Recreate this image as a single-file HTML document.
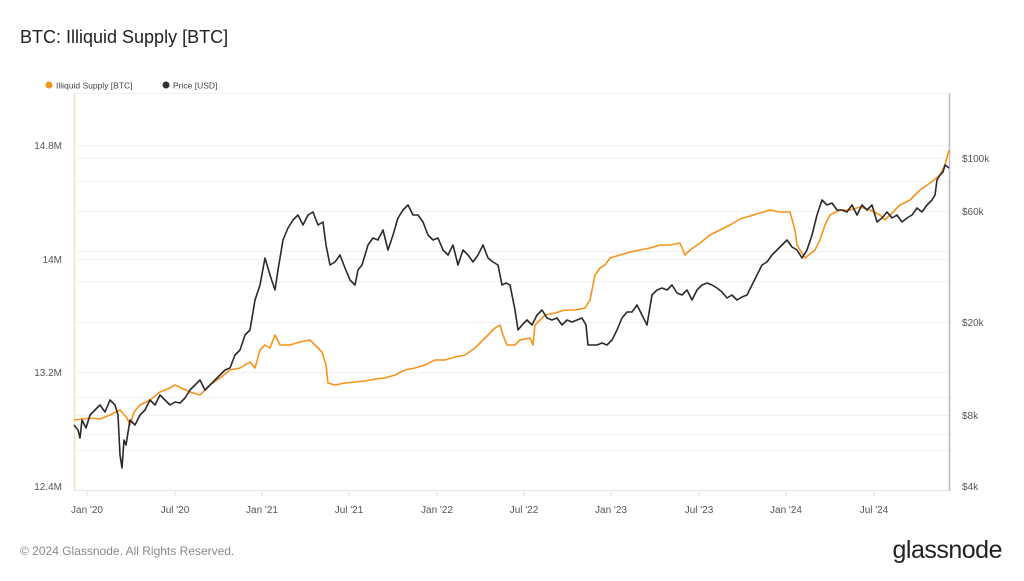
<!DOCTYPE html>
<html><head><meta charset="utf-8"><style>
body{margin:0;background:#fff;font-family:"Liberation Sans",sans-serif;}
</style></head><body>
<svg width="1024" height="576" xmlns="http://www.w3.org/2000/svg" font-family="Liberation Sans, sans-serif">
<rect width="1024" height="576" fill="#fff"/>
<text x="20" y="43" font-size="18" fill="#222">BTC: Illiquid Supply [BTC]</text>
<circle cx="49" cy="85" r="3.5" fill="#f7931a"/>
<text x="56" y="88.5" font-size="8.5" fill="#444">Illiquid Supply [BTC]</text>
<circle cx="166" cy="85" r="3.5" fill="#333"/>
<text x="173" y="88.5" font-size="8.5" fill="#444">Price [USD]</text>
<g stroke="#f0f0f0" stroke-width="1">
<line x1="74" y1="93.5" x2="949" y2="93.5"/>
<line x1="74" y1="145.5" x2="949" y2="145.5"/>
<line x1="74" y1="158.5" x2="949" y2="158.5"/>
<line x1="74" y1="181.5" x2="949" y2="181.5"/>
<line x1="74" y1="211.5" x2="949" y2="211.5"/>
<line x1="74" y1="251.5" x2="949" y2="251.5"/>
<line x1="74" y1="259.5" x2="949" y2="259.5"/>
<line x1="74" y1="281.5" x2="949" y2="281.5"/>
<line x1="74" y1="322.5" x2="949" y2="322.5"/>
<line x1="74" y1="372.5" x2="949" y2="372.5"/>
<line x1="74" y1="397.5" x2="949" y2="397.5"/>
<line x1="74" y1="415.5" x2="949" y2="415.5"/>
<line x1="74" y1="434.5" x2="949" y2="434.5"/>
<line x1="74" y1="450.5" x2="949" y2="450.5"/>
</g>
<line x1="74" y1="490.5" x2="949" y2="490.5" stroke="#e4e4e4"/>
<line x1="74.5" y1="93" x2="74.5" y2="491" stroke="#fbe0bf" stroke-width="1.5"/>
<line x1="949.5" y1="93" x2="949.5" y2="491" stroke="#bbb" stroke-width="1.5"/>
<g stroke="#ddd"><line x1="87" y1="491" x2="87" y2="496"/><line x1="175" y1="491" x2="175" y2="496"/><line x1="262" y1="491" x2="262" y2="496"/><line x1="349" y1="491" x2="349" y2="496"/><line x1="437" y1="491" x2="437" y2="496"/><line x1="524" y1="491" x2="524" y2="496"/><line x1="611" y1="491" x2="611" y2="496"/><line x1="699" y1="491" x2="699" y2="496"/><line x1="786" y1="491" x2="786" y2="496"/><line x1="874" y1="491" x2="874" y2="496"/></g>
<g font-size="10" fill="#555" text-anchor="end">
<text x="62" y="149">14.8M</text><text x="62" y="263">14M</text><text x="62" y="376">13.2M</text><text x="62" y="490">12.4M</text>
</g>
<g font-size="10" fill="#555">
<text x="962" y="162">$100k</text><text x="962" y="215">$60k</text><text x="962" y="326">$20k</text><text x="962" y="419">$8k</text><text x="962" y="490">$4k</text>
</g>
<g font-size="10" fill="#555" text-anchor="middle">
<text x="87" y="513">Jan '20</text><text x="175" y="513">Jul '20</text><text x="262" y="513">Jan '21</text><text x="349" y="513">Jul '21</text><text x="437" y="513">Jan '22</text><text x="524" y="513">Jul '22</text><text x="611" y="513">Jan '23</text><text x="699" y="513">Jul '23</text><text x="786" y="513">Jan '24</text><text x="874" y="513">Jul '24</text>
</g>
<polyline fill="none" stroke="#f7931a" stroke-width="1.6" stroke-linejoin="round" points="74,420 90,418 100,419 110,415 120,410 127,418 130,425 134,412 140,405 150,400 160,392 170,388 175,385 190,392 200,395 210,385 220,378 230,370 240,368 250,362 255,368 260,350 265,345 270,348 275,335 280,345 290,345 300,342 310,340 315,345 322,352 326,365 328,383 335,385 345,383 355,382 365,381 375,379 385,378 395,375 405,370 415,368 425,365 435,360 445,360 455,357 465,355 475,348 485,338 495,328 500,325 503,335 507,345 515,345 520,340 530,338 533,345 535,325 545,315 555,313 565,310 575,310 585,308 590,300 595,275 600,268 605,265 610,258 620,255 630,252 640,250 650,248 660,245 670,245 680,243 685,255 690,250 700,243 710,235 720,230 730,225 740,219 750,216 760,213 770,210 780,212 790,212 795,230 797,245 805,258 815,250 820,240 825,225 830,215 840,210 850,210 860,207 870,210 880,215 885,220 890,215 900,205 910,200 920,190 930,183 940,175 945,165 949,150"/>
<polyline fill="none" stroke="#2a2a2a" stroke-width="1.6" stroke-linejoin="round" points="74,425 78,430 80,438 82,420 86,428 90,415 95,410 100,405 105,412 110,400 115,405 118,415 120,455 122,468 124,440 126,445 130,420 135,425 140,415 145,410 150,400 155,405 160,395 165,400 170,405 175,402 180,403 185,398 190,390 195,385 200,380 205,390 210,385 215,380 220,375 225,370 230,368 235,355 240,350 245,335 250,330 255,300 260,285 265,258 270,275 275,290 278,270 283,240 288,228 293,220 298,215 303,225 308,215 313,212 318,225 323,222 326,245 330,265 335,262 340,255 345,268 350,280 355,285 358,270 362,265 368,245 373,238 378,240 383,230 388,250 393,235 398,218 403,210 408,205 413,215 418,215 423,222 428,235 433,240 438,238 443,250 448,255 453,245 458,265 463,250 468,255 473,262 478,255 483,245 488,258 493,262 498,265 502,285 506,283 510,285 515,310 518,330 522,325 527,320 532,325 537,315 542,310 547,318 552,320 557,318 562,325 567,320 572,322 577,320 582,318 586,325 588,345 592,345 597,345 602,343 607,345 612,340 617,330 622,318 627,312 632,312 637,305 642,315 647,325 652,295 657,290 662,288 667,290 672,285 677,293 682,295 687,290 692,300 697,290 702,285 707,283 712,285 717,288 722,292 727,298 732,295 737,300 742,297 747,295 752,285 757,275 762,265 767,262 772,255 777,250 782,245 787,240 792,247 797,250 802,258 807,250 812,235 817,215 822,200 827,205 832,203 837,210 842,210 847,212 852,205 857,215 862,205 867,210 872,205 877,222 882,218 887,212 892,218 897,215 902,222 907,218 912,215 917,208 922,212 927,205 932,200 935,195 937,180 940,175 943,172 945,165 949,168"/>
<text x="20" y="555" font-size="12" fill="#888">© 2024 Glassnode. All Rights Reserved.</text>
<text x="1002" y="558" font-size="25" fill="#222" text-anchor="end" letter-spacing="-0.5">glassnode</text>
</svg>
</body></html>
